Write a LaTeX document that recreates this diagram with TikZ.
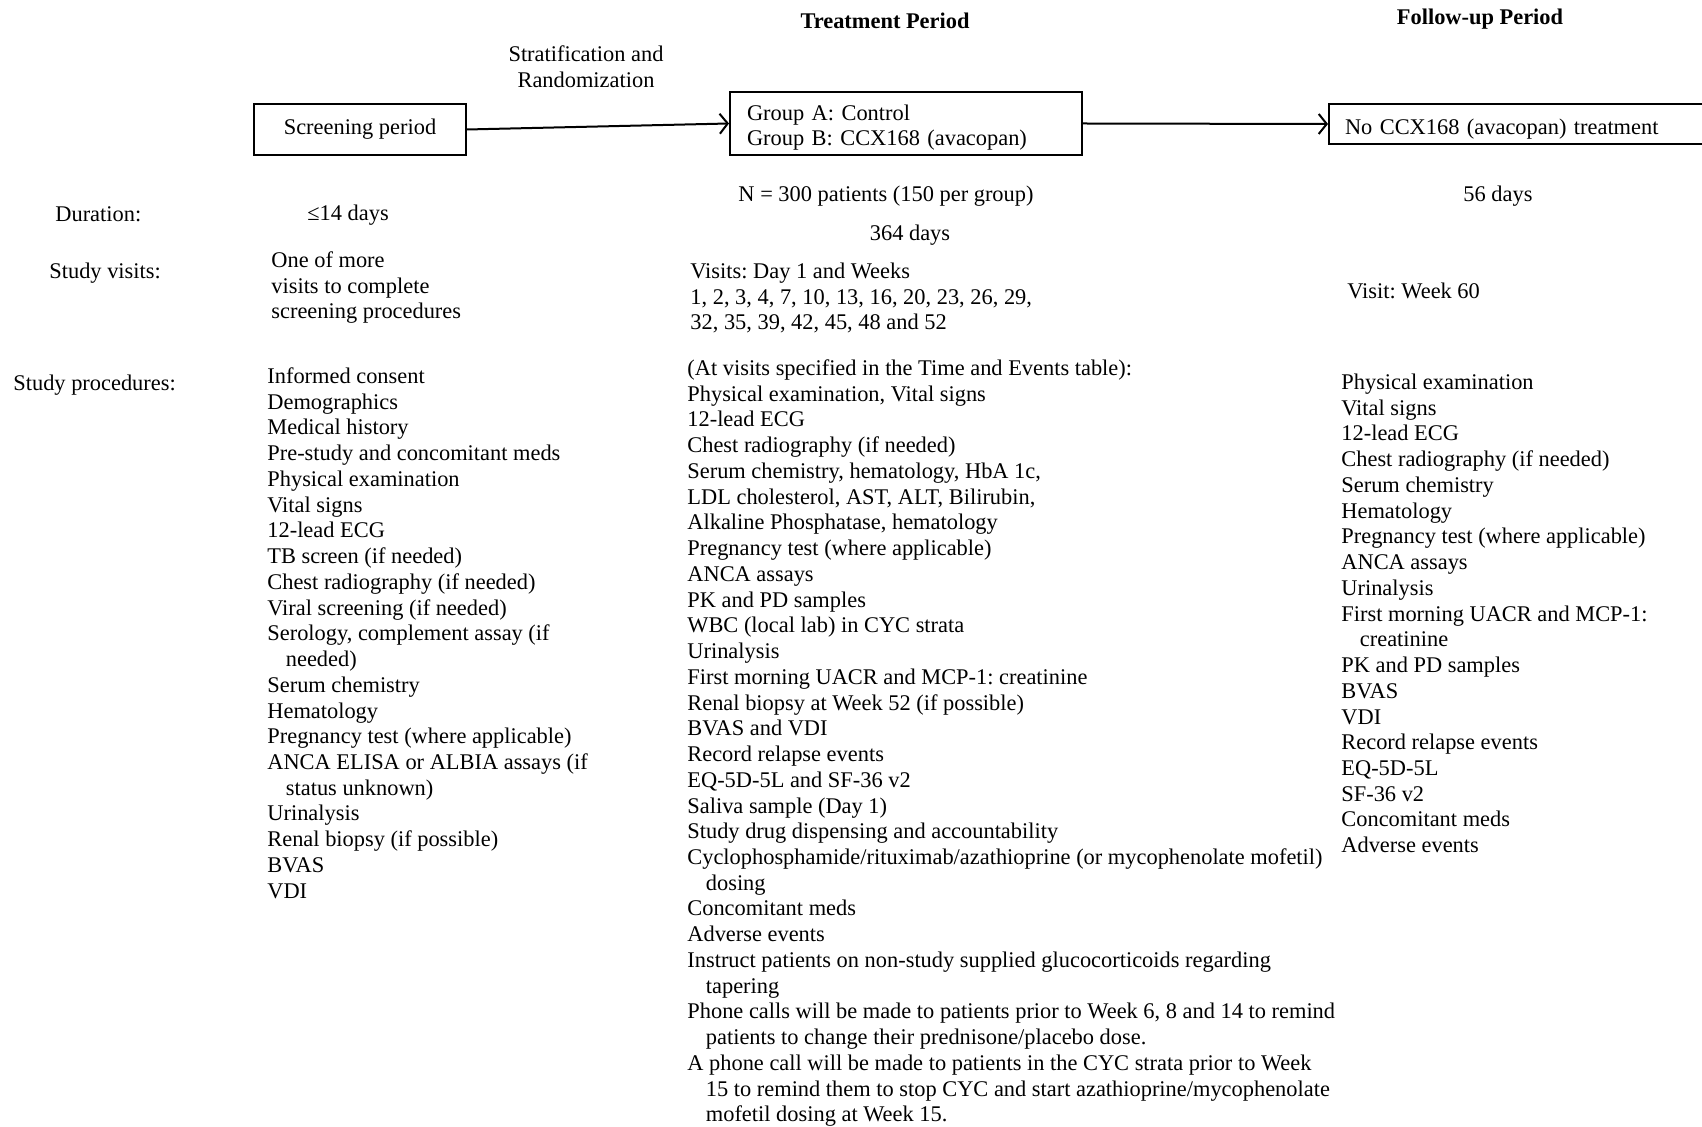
\documentclass[tikz,border=0pt]{standalone}
\usepackage{fontspec}
\setmainfont{Liberation Serif}
\usetikzlibrary{arrows.meta}
\frenchspacing
\newcommand\bodysize{\fontsize{11.2}{12.87}\selectfont}
\newcommand\cont{\hspace*{9.25pt}}

\begin{document}
\begin{tikzpicture}
[x=0.5pt,y=-0.5pt,%
  every node/.style={inner sep=0pt,font=\bodysize},%
  box/.style={draw,line width=1pt},%
  lbl/.style={anchor=base west},%
  lst/.style={anchor=north west,align=left},%
  hd/.style={anchor=base,font=\bodysize\bfseries},%
  arr/.style={-{Straight Barb[length=4pt,width=10pt]},line width=1pt}]
\useasboundingbox[fill=white] (0,0) rectangle (1702,1127);
\node[hd] (treat) at (885,29) {Treatment Period};
\node[hd] (follow) at (1480,25) {Follow-up Period};
\node[anchor=north,align=center] (strat) at (586,43)
  {\strut Stratification and\\Randomization};
\node[box,minimum width=106pt,minimum height=25.5pt] (screen) at (360,129.5)
  {Screening period};
\node[box,minimum height=31.5pt,text width=159pt,inner xsep=8.5pt,align=left]
  (group) at (906,123.5) {\rule{0pt}{12pt}Group A: Control\\Group B: CCX168 (avacopan)};
\node[box,anchor=west,minimum height=20pt,text width=184pt,inner xsep=8pt,align=left]
  (nocx) at (1328,124) {\rule{0pt}{12.4pt}No CCX168 (avacopan) treatment};
\draw[arr] (screen.east) -- (group.west);
\draw[arr] (group.east) -- (nocx.west);
\node[lbl] (dur) at (55,222) {Duration:};
\node[lbl] (visits) at (49,279) {Study visits:};
\node[lbl] (procs) at (13,391) {Study procedures:};
\node[lbl] (scrdur) at (307,221) {≤14 days};
\node[lst] (scrvis) at (271,249)
  {\strut One of more\\visits to complete\\screening procedures};
\node[lst] (scrproc) at (267,365)
  {\strut Informed consent\\
  Demographics\\
  Medical history\\
  Pre-study and concomitant meds\\
  Physical examination\\
  Vital signs\\
  12-lead ECG\\
  TB screen (if needed)\\
  Chest radiography (if needed)\\
  Viral screening (if needed)\\
  Serology, complement assay (if\\
  \cont needed)\\
  Serum chemistry\\
  Hematology\\
  Pregnancy test (where applicable)\\
  ANCA ELISA or ALBIA assays (if\\
  \cont status unknown)\\
  Urinalysis\\
  Renal biopsy (if possible)\\
  BVAS\\
  VDI};
\node[anchor=base] (npat) at (886,202) {N = 300 patients (150 per group)};
\node[anchor=base] (trdur) at (910,241) {364 days};
\node[lst] (trvis) at (690,260)
  {\strut Visits: Day 1 and Weeks\\
  1, 2, 3, 4, 7, 10, 13, 16, 20, 23, 26, 29,\\
  32, 35, 39, 42, 45, 48 and 52};
\node[lst] (trproc) at (687,357)
  {\strut (At visits specified in the Time and Events table):\\
  Physical examination, Vital signs\\
  12-lead ECG\\
  Chest radiography (if needed)\\
  Serum chemistry, hematology, HbA 1c,\\
  LDL cholesterol, AST, ALT, Bilirubin,\\
  Alkaline Phosphatase, hematology\\
  Pregnancy test (where applicable)\\
  ANCA assays\\
  PK and PD samples\\
  WBC (local lab) in CYC strata\\
  Urinalysis\\
  First morning UACR and MCP-1: creatinine\\
  Renal biopsy at Week 52 (if possible)\\
  BVAS and VDI\\
  Record relapse events\\
  EQ-5D-5L and SF-36 v2\\
  Saliva sample (Day 1)\\
  Study drug dispensing and accountability\\
  Cyclophosphamide/rituximab/azathioprine (or mycophenolate mofetil)\\
  \cont dosing\\
  Concomitant meds\\
  Adverse events\\
  Instruct patients on non-study supplied glucocorticoids regarding\\
  \cont tapering\\
  Phone calls will be made to patients prior to Week 6, 8 and 14 to remind\\
  \cont patients to change their prednisone/placebo dose.\\
  A phone call will be made to patients in the CYC strata prior to Week\\
  \cont 15 to remind them to stop CYC and start azathioprine/mycophenolate\\
  \cont mofetil dosing at Week 15.};
\node[anchor=base] (fudur) at (1498,202) {56 days};
\node[lbl] (fuvis) at (1347,299) {Visit: Week 60};
\node[lst] (fuproc) at (1341,371)
  {\strut Physical examination\\
  Vital signs\\
  12-lead ECG\\
  Chest radiography (if needed)\\
  Serum chemistry\\
  Hematology\\
  Pregnancy test (where applicable)\\
  ANCA assays\\
  Urinalysis\\
  First morning UACR and MCP-1:\\
  \cont creatinine\\
  PK and PD samples\\
  BVAS\\
  VDI\\
  Record relapse events\\
  EQ-5D-5L\\
  SF-36 v2\\
  Concomitant meds\\
  Adverse events};
\end{tikzpicture}
\end{document}
